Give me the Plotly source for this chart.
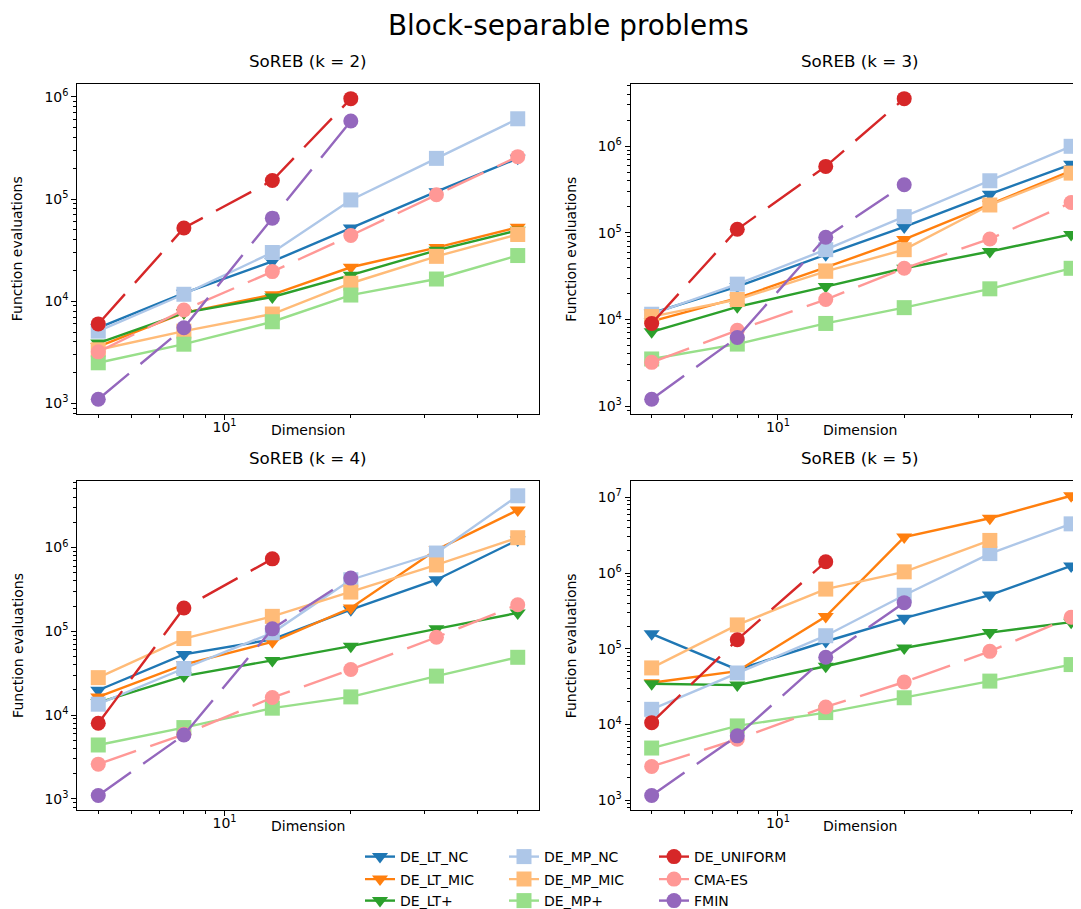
import math
import plotly.graph_objects as go

# ---------------- data ----------------
DIMS = [5, 8, 13, 20, 32, 50]
ALGORITHMS = ["DE_LT_NC", "DE_LT_MIC", "DE_LT+",
              "DE_MP_NC", "DE_MP_MIC", "DE_MP+",
              "DE_UNIFORM", "CMA-ES", "FMIN"]
PANEL_TITLES = ["SoREB (k = 2)", "SoREB (k = 3)", "SoREB (k = 4)", "SoREB (k = 5)"]
SUPTITLE = "Block-separable problems"
X_LABEL = "Dimension"
Y_LABEL = "Function evaluations"

SOREB_K2 = {
    "DE_LT_NC":   [5500, 12000, 24500, 52000, 118000, 250000],
    "DE_LT_MIC":  [3600, 7700, 11600, 21500, 33500, 53000],
    "DE_LT+":     [3900, 7700, 11000, 18000, 31500, 49500],
    "DE_MP_NC":   [5100, 11700, 30000, 98000, 250000, 610000],
    "DE_MP_MIC":  [3350, 5100, 7500, 15000, 27500, 45000],
    "DE_MP+":     [2500, 3800, 6300, 11500, 16500, 28000],
    "DE_UNIFORM": [6000, 52000, 152000, 960000],
    "CMA-ES":     [3200, 8200, 19500, 44000, 110000, 260000],
    "FMIN":       [1100, 5500, 65000, 580000],
}
SOREB_K3 = {
    "DE_LT_NC":   [11800, 24000, 56000, 117000, 280000, 620000],
    "DE_LT_MIC":  [9500, 17600, 40000, 84000, 214000, 520000],
    "DE_LT+":     [7200, 14000, 24000, 39000, 61000, 96000],
    "DE_MP_NC":   [11500, 25600, 64000, 154000, 400000, 1000000],
    "DE_MP_MIC":  [10800, 17000, 36000, 64000, 210000, 490000],
    "DE_MP+":     [3500, 5200, 9000, 13700, 22600, 39000],
    "DE_UNIFORM": [9000, 110000, 586000, 3550000],
    "CMA-ES":     [3200, 7500, 17000, 39000, 85000, 224000],
    "FMIN":       [1200, 6200, 89000, 360000],
}
SOREB_K4 = {
    "DE_LT_NC":   [19800, 53000, 80000, 181000, 413000, 1230000],
    "DE_LT_MIC":  [16500, 40000, 75000, 190000, 940000, 2800000],
    "DE_LT+":     [14100, 29200, 45000, 66500, 107000, 166000],
    "DE_MP_NC":   [13500, 36000, 96000, 413000, 860000, 4150000],
    "DE_MP_MIC":  [28000, 82000, 151000, 294000, 620000, 1310000],
    "DE_MP+":     [4400, 7100, 12100, 16500, 29200, 49000],
    "DE_UNIFORM": [8000, 190000, 733000],
    "CMA-ES":     [2600, 5900, 16200, 35000, 85000, 208000],
    "FMIN":       [1100, 5800, 107000, 432000],
}
SOREB_K5 = {
    "DE_LT_NC":   [158000, 53000, 125000, 254000, 513000, 1245000],
    "DE_LT_MIC":  [35600, 50700, 267000, 2990000, 5300000, 10500000],
    "DE_LT+":     [34600, 33200, 58900, 102600, 164000, 225000],
    "DE_MP_NC":   [15900, 48000, 149000, 510000, 1810000, 4470000],
    "DE_MP_MIC":  [56000, 207000, 615000, 1040000, 2700000],
    "DE_MP+":     [4900, 9600, 14400, 22600, 37500, 62000],
    "DE_UNIFORM": [10600, 132000, 1410000],
    "CMA-ES":     [2800, 6400, 17100, 36400, 92700, 261000],
    "FMIN":       [1160, 7100, 77400, 407000],
}
PANELS = [SOREB_K2, SOREB_K3, SOREB_K4, SOREB_K5]

# ---------------- styles ----------------
COLORS = {
    "DE_LT_NC": "#1f77b4", "DE_LT_MIC": "#ff7f0e", "DE_LT+": "#2ca02c",
    "DE_MP_NC": "#aec7e8", "DE_MP_MIC": "#ffbb78", "DE_MP+": "#98df8a",
    "DE_UNIFORM": "#d62728", "CMA-ES": "#ff9896", "FMIN": "#9467bd",
}
SYMBOLS = {"DE_LT_NC": "triangle-down", "DE_LT_MIC": "triangle-down", "DE_LT+": "triangle-down",
           "DE_MP_NC": "square", "DE_MP_MIC": "square", "DE_MP+": "square",
           "DE_UNIFORM": "circle", "CMA-ES": "circle", "FMIN": "circle"}
MSIZE = {"triangle-down": 14, "square": 15, "circle": 15}
DASHED = {"DE_UNIFORM", "CMA-ES", "FMIN"}

W, H = 1081, 909
FONT = "DejaVu Sans"

# axes boxes in pixels (left, right, top, bottom)
BOXES = [(69.3, 530.7, 75.7, 406.7), (622.7, 1082.1, 75.7, 406.7),
         (69.3, 530.7, 473.3, 803.3), (622.7, 1082.1, 473.3, 803.3)]
# legend: column x (box left, px) and row centre y (px); 3 columns x 3 rows
LEG_COL_X = [352, 496, 646]
LEG_ROW_Y = [849, 871.5, 894]
ANN_DY = 8  # plotly annotation vertical offset correction (px)


def px_x(v):
    return v / W


def px_y(v):
    return 1 - v / H


def legend_key(idx):
    return "legend" if idx == 0 else f"legend{idx + 1}"


fig = go.Figure()

xlo = math.log10(min(DIMS)) - 0.05 * (math.log10(max(DIMS)) - math.log10(min(DIMS)))
xhi = math.log10(max(DIMS)) + 0.05 * (math.log10(max(DIMS)) - math.log10(min(DIMS)))
px_per_dec = (BOXES[0][1] - BOXES[0][0]) / (xhi - xlo)

annotations = []
layout_axes = {}
for i, (panel, title) in enumerate(zip(PANELS, PANEL_TITLES)):
    n = i + 1
    xa = "x" if n == 1 else f"x{n}"
    ya = "y" if n == 1 else f"y{n}"
    left, right, top, bottom = BOXES[i]
    right_c = min(right, W)
    xr_hi = xlo + (right_c - left) / px_per_dec

    for j, alg in enumerate(ALGORITHMS):
        vals = panel[alg]
        sym = SYMBOLS[alg]
        fig.add_trace(go.Scatter(
            x=DIMS[:len(vals)], y=vals, name=alg, mode="lines+markers",
            line=dict(color=COLORS[alg], width=2.4,
                      dash="40px,15px" if alg in DASHED else "solid"),
            marker=dict(symbol=sym, size=MSIZE[sym], color=COLORS[alg]),
            xaxis=xa, yaxis=ya, showlegend=(i == 0), legend=legend_key(j),
            cliponaxis=False,
        ))

    all_vals = [v for a in ALGORITHMS for v in panel[a]]
    lmin, lmax = math.log10(min(all_vals)), math.log10(max(all_vals))
    span = lmax - lmin
    ylo, yhi = lmin - 0.05 * span, lmax + 0.05 * span
    majors = [10 ** p for p in range(math.floor(ylo), math.ceil(yhi) + 1)
              if ylo <= p <= yhi]
    minors = [m * 10 ** p for p in range(math.floor(ylo), math.ceil(yhi) + 1)
              for m in range(2, 10) if ylo <= math.log10(m * 10 ** p) <= yhi]

    common = dict(showline=True, mirror=True, linecolor="black", linewidth=1.1,
                  ticks="outside", ticklen=5, tickwidth=1.1, tickcolor="black",
                  showgrid=False, zeroline=False, automargin=False,
                  tickfont=dict(family=FONT, size=14, color="black"))
    layout_axes["xaxis" if n == 1 else f"xaxis{n}"] = dict(
        type="log", range=[xlo, xr_hi], domain=[px_x(left), px_x(right_c)],
        anchor=ya, tickmode="array", tickvals=[10], ticktext=["10<sup>1</sup>"],
        ticklabelstandoff=-5,
        minor=dict(tickmode="array", tickvals=[5, 6, 7, 8, 9, 20, 30, 40, 50],
                   ticks="outside", ticklen=3, tickwidth=0.8, tickcolor="black"),
        **common)
    layout_axes["yaxis" if n == 1 else f"yaxis{n}"] = dict(
        type="log", range=[ylo, yhi], domain=[px_y(bottom), px_y(top)],
        anchor=xa, tickmode="array", tickvals=majors,
        ticktext=[f"10<sup>{round(math.log10(v))}</sup>" for v in majors],
        minor=dict(tickmode="array", tickvals=minors,
                   ticks="outside", ticklen=3, tickwidth=0.8, tickcolor="black"),
        **common)

    cx = (left + right) / 2
    annotations.append(dict(text=title, x=px_x(cx), y=px_y(top - 15 - ANN_DY), xref="paper", yref="paper",
                            xanchor="center", yanchor="middle", showarrow=False,
                            font=dict(family=FONT, size=16.7, color="black")))
    annotations.append(dict(text=X_LABEL, x=px_x(cx), y=px_y(bottom + 23.5 - ANN_DY), xref="paper", yref="paper",
                            xanchor="center", yanchor="middle", showarrow=False,
                            font=dict(family=FONT, size=14, color="black")))
    annotations.append(dict(text=Y_LABEL, x=px_x(left - 60), y=px_y((top + bottom) / 2),
                            xref="paper", yref="paper", textangle=-90,
                            xanchor="center", yanchor="middle", showarrow=False,
                            font=dict(family=FONT, size=14, color="black")))

annotations.append(dict(text=SUPTITLE, x=px_x(560), y=1.0, xref="paper", yref="paper",
                        xanchor="center", yanchor="top", showarrow=False, borderpad=0,
                        font=dict(family=FONT, size=27.8, color="black")))

legends = {}
for j in range(len(ALGORITHMS)):
    col, row = divmod(j, 3)
    legends[legend_key(j)] = dict(
        x=px_x(LEG_COL_X[col]), y=px_y(LEG_ROW_Y[row]), xanchor="left", yanchor="middle",
        bgcolor="rgba(0,0,0,0)", borderwidth=0, orientation="v",
        font=dict(family=FONT, size=14, color="black"))

fig.update_layout(
    width=W, height=H, margin=dict(l=0, r=0, t=0, b=0),
    paper_bgcolor="white", plot_bgcolor="white",
    showlegend=True, annotations=annotations,
    **legends,
    **layout_axes,
)

fig.write_html("out.html")
